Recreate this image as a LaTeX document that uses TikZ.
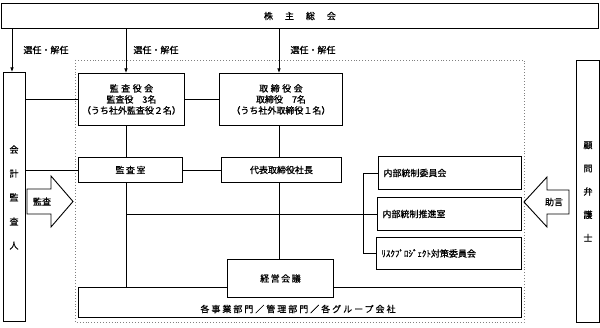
\documentclass[tikz,border=0pt]{standalone}
\usepackage{fontspec}
\setmainfont{Noto Sans CJK JP}[FakeBold=0.7]
\usetikzlibrary{arrows.meta}
\begin{document}
\begin{tikzpicture}[x=1pt,y=-1pt,
  box/.style={draw, line width=0.9pt, fill=white, inner sep=0pt, anchor=north west,
    font=\fontsize{9}{11}\selectfont, align=center},
  ln/.style={line width=0.7pt},
  arr/.style={ln, -{Latex[length=4.5pt,width=3.5pt]}},
  txt/.style={inner sep=0pt, font=\fontsize{9}{11}\selectfont, align=center},
  blk/.style={draw, line width=0.9pt, fill=white, line join=miter}]
\useasboundingbox (0,0) rectangle (600,328);

% dotted frame
\draw[gray, dotted, line width=0.9pt] (75,60) rectangle (524,322);

% helper coordinates
\coordinate (v0) at (12,0);
\coordinate (v1) at (126,0);
\coordinate (v2) at (279,0);
\coordinate (v3) at (363,0);

% boxes
\node[box, minimum width=597, minimum height=25] (sh) at (1,3)
  {株\hspace{12pt}主\hspace{12pt}総\hspace{12pt}会};
\node[box, minimum width=22, minimum height=249] (kaikei) at (3,72) {};
\node[box, minimum width=23, minimum height=262] (komon) at (576,60) {};
\node[box, minimum width=106, minimum height=52] (kansayaku) at (78,73)
  {監\hspace{2.5pt}査\hspace{2.5pt}役\hspace{2.5pt}会\\監査役　3名\\（うち社外監査役２名）};
\node[box, minimum width=123, minimum height=52] (torishimari) at (219,73)
  {取\hspace{2.5pt}締\hspace{2.5pt}役\hspace{2.5pt}会\\取締役　7名\\（うち社外取締役１名）};
\node[box, minimum width=104, minimum height=25] (kansashitsu) at (78,157) {監\,査\,室};
\node[box, minimum width=120, minimum height=25] (daihyo) at (221,157) {代表取締役社長};
\node[box, minimum width=143, minimum height=33, text width=133, align=left, inner xsep=5pt] (naibu1) at (378,156) {内部統制委員会};
\node[box, minimum width=144, minimum height=33, text width=134, align=left, inner xsep=5pt] (naibu2) at (377,197) {内部統制推進室};
\node[box, minimum width=145, minimum height=32, text width=135, align=left, inner xsep=5pt] (risk) at (376,237) {ﾘｽｸﾌﾟﾛｼﾞｪｸﾄ対策委員会};
\node[box, minimum width=443, minimum height=30] (kakuji) at (78,287) {};
\node[txt] (kakujit) at (298,309) {\addfontfeatures{LetterSpace=22}各事業部門／管理部門／各グループ会社};
\node[box, minimum width=106, minimum height=38] (keiei) at (227,259) {経\,営\,会\,議};

% vertical texts
\node[txt, font=\fontsize{9}{24}\selectfont] (kaikeit) at (14,197.5) {会\\計\\監\\査\\人};
\node[txt, font=\fontsize{9}{23.25}\selectfont] (komont) at (588,191.5) {顧\\問\\弁\\護\\士};

% arrows from shareholders meeting
\draw[arr] (sh.south -| v0) -- (kaikei.north -| v0);
\draw[arr] (sh.south -| v1) -- (kansayaku.north -| v1);
\draw[arr] (sh.south -| v2) -- (torishimari.north -| v2);
\node[txt] (l1) at (46,50) {選任・解任};
\node[txt] (l2) at (156,50) {選任・解任};
\node[txt] (l3) at (313,50) {選任・解任};

% connectors
\draw[ln] (kaikei.east |- kansayaku.west) -- (kansayaku.west);
\draw[ln] (kansayaku.east) -- (torishimari.west);
\draw[ln] (kaikei.east |- kansashitsu.west) -- (kansashitsu.west);
\draw[ln] (kansashitsu.east) -- (daihyo.west);
\draw[ln] (v1 |- kansayaku.south) -- (v1 |- kansashitsu.north);
\draw[ln] (v1 |- kansashitsu.south) -- (v1 |- kakuji.north);
\draw[ln] (v2 |- torishimari.south) -- (v2 |- daihyo.north);
\draw[ln] (v2 |- daihyo.south) -- (v2 |- keiei.north);
\draw[ln] (v1 |- naibu2.west) -- (naibu2.west);
\draw[ln] (naibu1.west) -| (v3 |- risk.west) -- (risk.west);

% block arrows
\draw[blk] (27,189) -- (51,189) -- (51,176) -- (73,201.5) -- (51,227) -- (51,214) -- (27,214) -- cycle;
\node[txt] (kansa) at (42,201.5) {監査};
\draw[blk] (569,190) -- (547,190) -- (547,177) -- (524,202) -- (547,227) -- (547,214) -- (569,214) -- cycle;
\node[txt] (jogen) at (554,202) {助言};
\end{tikzpicture}
\end{document}
